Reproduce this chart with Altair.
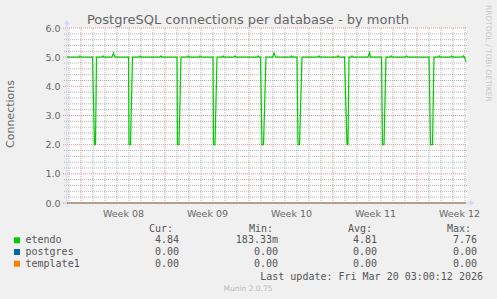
import altair as alt
import pandas as pd

# ---------------- data ----------------
TITLE = "PostgreSQL connections per database - by month"
Y_TITLE = "Connections"

etendo_times = [
    "2026-02-14T20:00:00Z", "2026-02-15T20:00:00Z", "2026-02-15T22:00:00Z", "2026-02-16T00:00:00Z",
    "2026-02-16T23:00:00Z", "2026-02-17T03:00:00Z", "2026-02-17T05:00:00Z", "2026-02-17T07:00:00Z",
    "2026-02-17T18:00:00Z", "2026-02-17T20:00:00Z", "2026-02-17T22:00:00Z",
    "2026-02-18T14:00:00Z", "2026-02-18T17:00:00Z", "2026-02-18T20:00:00Z",
    "2026-02-19T23:00:00Z", "2026-02-20T00:00:00Z", "2026-02-20T03:00:00Z", "2026-02-20T07:00:00Z",
    "2026-02-20T20:00:00Z", "2026-02-20T22:00:00Z", "2026-02-21T00:00:00Z",
    "2026-02-22T14:00:00Z", "2026-02-22T16:00:00Z", "2026-02-22T18:00:00Z",
    "2026-02-24T00:00:00Z", "2026-02-24T01:00:00Z", "2026-02-24T04:00:00Z", "2026-02-24T08:00:00Z",
    "2026-02-24T20:00:00Z", "2026-02-24T22:00:00Z", "2026-02-25T00:00:00Z",
    "2026-02-25T20:00:00Z", "2026-02-25T22:00:00Z", "2026-02-26T00:00:00Z",
    "2026-02-27T00:00:00Z", "2026-02-27T01:00:00Z", "2026-02-27T04:00:00Z", "2026-02-27T08:00:00Z",
    "2026-02-27T18:00:00Z", "2026-02-27T20:00:00Z", "2026-02-27T22:00:00Z",
    "2026-02-28T18:00:00Z", "2026-02-28T20:00:00Z", "2026-02-28T22:00:00Z",
    "2026-03-02T16:00:00Z", "2026-03-02T18:00:00Z", "2026-03-02T20:00:00Z",
    "2026-03-02T23:00:00Z", "2026-03-03T02:00:00Z", "2026-03-03T05:00:00Z", "2026-03-03T10:00:00Z",
    "2026-03-03T23:00:00Z", "2026-03-04T02:00:00Z", "2026-03-04T05:00:00Z",
    "2026-03-05T11:00:00Z", "2026-03-05T13:00:00Z", "2026-03-05T15:00:00Z",
    "2026-03-06T00:00:00Z", "2026-03-06T02:00:00Z", "2026-03-06T05:00:00Z", "2026-03-06T10:00:00Z",
    "2026-03-07T18:00:00Z", "2026-03-07T20:00:00Z", "2026-03-07T22:00:00Z",
    "2026-03-09T08:00:00Z", "2026-03-09T10:00:00Z", "2026-03-09T12:00:00Z",
    "2026-03-09T23:00:00Z", "2026-03-10T04:00:00Z", "2026-03-10T06:00:00Z", "2026-03-10T08:00:00Z",
    "2026-03-10T12:00:00Z", "2026-03-10T14:00:00Z", "2026-03-10T16:00:00Z",
    "2026-03-11T22:00:00Z", "2026-03-12T01:00:00Z", "2026-03-12T03:00:00Z",
    "2026-03-13T01:00:00Z", "2026-03-13T03:00:00Z", "2026-03-13T06:00:00Z", "2026-03-13T10:00:00Z",
    "2026-03-13T19:00:00Z", "2026-03-13T21:00:00Z", "2026-03-13T23:00:00Z",
    "2026-03-15T01:00:00Z", "2026-03-15T03:00:00Z", "2026-03-15T05:00:00Z",
    "2026-03-17T00:00:00Z", "2026-03-17T03:00:00Z", "2026-03-17T07:00:00Z", "2026-03-17T10:00:00Z",
    "2026-03-17T19:00:00Z", "2026-03-17T21:00:00Z", "2026-03-17T23:00:00Z",
    "2026-03-18T19:00:00Z", "2026-03-18T21:00:00Z", "2026-03-18T23:00:00Z",
    "2026-03-19T19:00:00Z", "2026-03-19T21:00:00Z", "2026-03-19T23:00:00Z",
    "2026-03-20T02:00:00Z",
]
etendo_values = [
    5.00, 5.00, 5.04, 5.00,
    5.00, 2.00, 2.00, 5.00,
    5.00, 5.04, 5.00,
    5.00, 5.14, 5.00,
    5.00, 2.00, 2.00, 5.00,
    5.00, 5.04, 5.00,
    5.00, 5.04, 5.00,
    5.00, 2.00, 2.00, 5.00,
    5.00, 5.04, 5.00,
    5.00, 5.04, 5.00,
    5.00, 2.00, 2.00, 5.00,
    5.00, 5.04, 5.00,
    5.00, 5.04, 5.00,
    5.00, 5.04, 5.00,
    5.00, 2.00, 2.00, 5.00,
    5.00, 5.14, 5.00,
    5.00, 5.04, 5.00,
    5.00, 2.00, 2.00, 5.00,
    5.00, 5.04, 5.00,
    5.00, 5.05, 5.00,
    5.00, 2.00, 2.00, 5.00,
    5.00, 5.04, 5.00,
    5.00, 5.15, 5.00,
    5.00, 2.00, 2.00, 5.00,
    5.00, 5.04, 5.00,
    5.00, 5.04, 5.00,
    5.00, 2.00, 2.00, 5.00,
    5.00, 5.04, 5.00,
    5.00, 5.04, 5.00,
    5.00, 5.05, 5.00,
    4.84,
]
zero_times = ["2026-02-14T20:00:00Z", "2026-03-20T02:00:00Z"]
postgres_values = [0.0, 0.0]
template1_values = [0.0, 0.0]

series_names = ["etendo", "postgres", "template1"]
series_colors = ["#00CC00", "#0066B3", "#FF8000"]
legend_headers = ["Cur:", "Min:", "Avg:", "Max:"]
legend_cur = ["4.84", "0.00", "0.00"]
legend_min = ["183.33m", "0.00", "0.00"]
legend_avg = ["4.81", "0.00", "0.00"]
legend_max = ["7.76", "0.00", "0.00"]

y_ticks = [0, 1, 2, 3, 4, 5, 6]
week_label_times = ["2026-02-19T12:00:00Z", "2026-02-26T12:00:00Z", "2026-03-05T12:00:00Z",
                    "2026-03-12T12:00:00Z", "2026-03-19T12:00:00Z"]
week_start_times = ["2026-02-16T00:00:00Z", "2026-02-23T00:00:00Z", "2026-03-02T00:00:00Z",
                    "2026-03-09T00:00:00Z", "2026-03-16T00:00:00Z"]
x_domain = ["2026-02-14T20:00:00Z", "2026-03-20T04:00:00Z"]
LAST_UPDATE = "Last update: Fri Mar 20 03:00:12 2026"
VERSION = "Munin 2.0.75"
WATERMARK = "RRDTOOL / TOBI OETIKER"

# ---------------- layout / style ----------------
W, H = 400, 175
X0, Y0 = 67, 28           # absolute position of plot origin
SANS = "DejaVu Sans"
MONO = "DejaVu Sans Mono"
FONT_COLOR = "#666666"
LEG_COLOR = "#555555"
AXIS_COLOR = "#CFD6F8"
GRID_COLOR = "#B4B4B4"
MGRID_COLOR = "#E49494"


def ms(s):
    return int(pd.Timestamp(s).value // 10**6)


xscale = alt.Scale(type="utc", domain=[ms(x_domain[0]), ms(x_domain[1])])
yscale = alt.Scale(domain=[0, 6], nice=False, zero=False)
xaxis = alt.Axis(values=[ms(s) for s in week_label_times],
                 labelExpr="'Week ' + utcFormat(datum.value, '%V')",
                 grid=False, ticks=False, domain=False, title=None,
                 labelFont=SANS, labelFontSize=9.5, labelColor=FONT_COLOR,
                 labelPadding=5)
yaxis = alt.Axis(values=y_ticks, format=".1f", grid=False, ticks=False,
                 domain=False, title=None, labelFont=SANS, labelFontSize=9.5,
                 labelColor=FONT_COLOR, labelPadding=7)


def X():
    return alt.X("t:T", scale=xscale, axis=xaxis)


def Y():
    return alt.Y("v:Q", scale=yscale, axis=yaxis)


dummy = pd.DataFrame({"a": [0]})

day_lines = [d.strftime("%Y-%m-%dT%H:%M:%SZ")
             for d in pd.date_range("2026-02-15", "2026-03-20", freq="D", tz="UTC")
             if d.strftime("%Y-%m-%dT%H:%M:%SZ") not in week_start_times]
minor_levels = [round(0.2 * i, 1) for i in range(0, 31) if i % 5 != 0]

layers = []

# minor grid
layers.append(alt.Chart(pd.DataFrame({"v": minor_levels})).mark_rule(
    color=GRID_COLOR, strokeWidth=1, strokeDash=[1, 1]).encode(
    y=Y(), x=alt.value(-3), x2=alt.value(W)))
layers.append(alt.Chart(pd.DataFrame({"t": day_lines})).mark_rule(
    color=GRID_COLOR, strokeWidth=1, strokeDash=[1, 1]).encode(
    x=X(), y=alt.value(0), y2=alt.value(H)))
# major grid
layers.append(alt.Chart(pd.DataFrame({"v": y_ticks})).mark_rule(
    color=MGRID_COLOR, strokeWidth=1, strokeDash=[1, 1]).encode(
    y=Y(), x=alt.value(-4), x2=alt.value(W)))
layers.append(alt.Chart(pd.DataFrame({"t": week_start_times})).mark_rule(
    color=MGRID_COLOR, strokeWidth=1, strokeDash=[1, 1]).encode(
    x=X(), y=alt.value(0), y2=alt.value(H)))

# axis lines and arrows
layers.append(alt.Chart(dummy).mark_rule(color=AXIS_COLOR, strokeWidth=1).encode(
    x=alt.value(0), y=alt.value(-5), y2=alt.value(H + 4)))
layers.append(alt.Chart(dummy).mark_rule(color=AXIS_COLOR, strokeWidth=1).encode(
    y=alt.value(H), x=alt.value(-4), x2=alt.value(W + 3)))
layers.append(alt.Chart(dummy).mark_point(shape="triangle-up", filled=True, size=28,
                                          color=AXIS_COLOR, opacity=1).encode(
    x=alt.value(0), y=alt.value(-6)))
layers.append(alt.Chart(dummy).mark_point(shape="triangle-right", filled=True, size=28,
                                          color=AXIS_COLOR, opacity=1).encode(
    x=alt.value(W + 5), y=alt.value(H)))

# series
for vals, col in [(postgres_values, series_colors[1]), (template1_values, series_colors[2])]:
    layers.append(alt.Chart(pd.DataFrame({"t": zero_times, "v": vals})).mark_line(
        color=col, strokeWidth=1, opacity=0.7).encode(x=X(), y=Y()))
main_df = pd.DataFrame({"t": etendo_times, "v": etendo_values})
layers.append(alt.Chart(main_df).mark_line(color=series_colors[0], strokeWidth=1.2).encode(
    x=X(), y=Y()))


def label(text, x, y, size=10, font=MONO, color=LEG_COLOR, align="left",
          baseline="alphabetic", angle=0):
    return alt.Chart(dummy).mark_text(
        text=text, font=font, fontSize=size, color=color, align=align,
        baseline=baseline, angle=angle).encode(
        x=alt.value(x - X0), y=alt.value(y - Y0))


# titles
layers.append(label(TITLE, 248, 24, size=13, font=SANS, color=FONT_COLOR, align="center"))
layers.append(label(Y_TITLE, 10.5, 114, size=11, font=SANS, color=FONT_COLOR,
                    align="center", baseline="middle", angle=270))
layers.append(label(WATERMARK, 488, 5, size=7.5, font=SANS, color="#C8C8C8",
                    align="left", baseline="middle", angle=90))

# legend
header_right = [173, 273, 372, 471]
value_right = [179, 278, 377, 477]
for h, xr in zip(legend_headers, header_right):
    layers.append(label(h, xr, 231.7, align="right"))
row_base = [243.3, 255.0, 266.7]
cols = [legend_cur, legend_min, legend_avg, legend_max]
for i, name in enumerate(series_names):
    layers.append(alt.Chart(dummy).mark_square(size=36, filled=True, opacity=1,
                                               color=series_colors[i]).encode(
        x=alt.value(17 - X0), y=alt.value(row_base[i] - 3 - Y0)))
    layers.append(label(name, 25.5, row_base[i]))
    for col, xr in zip(cols, value_right):
        layers.append(label(col[i], xr, row_base[i], align="right"))

layers.append(label(LAST_UPDATE, 483, 279.5, align="right"))
layers.append(label(VERSION, 248, 290.5, size=7.5, font=SANS, color="#BBBBBB", align="center"))

chart = alt.layer(*layers).properties(
    width=W, height=H,
    padding={"left": X0, "top": Y0, "right": 497 - X0 - W, "bottom": 299 - Y0 - H},
    autosize="none",
    background="#F0F0F0",
).configure_view(fill="white", stroke=None)

chart.save("out.html", embed_options={"renderer": "svg", "actions": False})
